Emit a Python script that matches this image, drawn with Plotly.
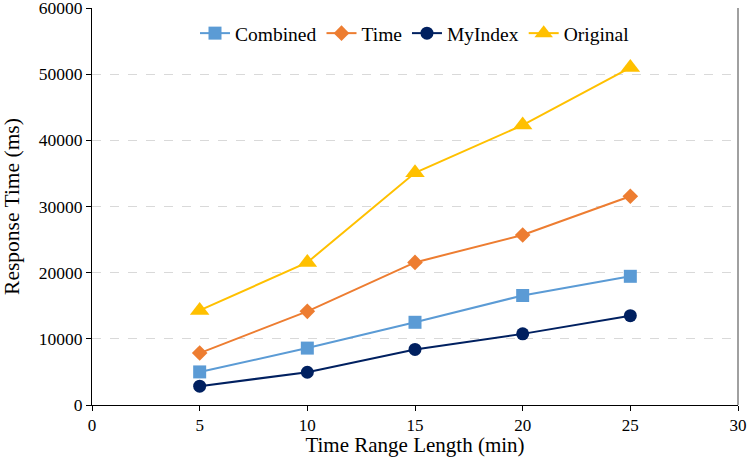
import plotly.graph_objects as go

x_vals = [5, 10, 15, 20, 25]
combined = [5000, 8600, 12500, 16550, 19450]
time_s = [7850, 14150, 21550, 25700, 31550]
myindex = [2850, 4950, 8400, 10750, 13500]
original = [14300, 21550, 35100, 42300, 51000]
x_ticks = [0, 5, 10, 15, 20, 25, 30]
y_ticks = [0, 10000, 20000, 30000, 40000, 50000, 60000]
grid_ticks = [10000, 20000, 30000, 40000, 50000]

series = [
    ("Combined", combined, "#5B9BD5", "square", 13),
    ("Time", time_s, "#ED7D31", "diamond", 12),
    ("MyIndex", myindex, "#002060", "circle", 13),
    ("Original", original, "#FFC000", "triangle-up", 17),
]

fig = go.Figure()
# helper trace so the dashed grid axis is rendered
fig.add_trace(go.Scatter(x=[None], y=[None], yaxis="y2", showlegend=False,
                         hoverinfo="skip"))
for name, ys, col, sym, sz in series:
    fig.add_trace(go.Scatter(
        x=x_vals, y=ys, name=name, mode="lines+markers",
        line=dict(color=col, width=2),
        marker=dict(symbol=sym, size=sz, color=col),
    ))

font_family = "Liberation Serif"
fig.update_layout(
    width=749, height=457,
    margin=dict(l=92, r=11, t=8, b=52),
    paper_bgcolor="white", plot_bgcolor="white",
    font=dict(family=font_family, color="black", size=17),
    showlegend=True,
    legend=dict(orientation="h", x=0.5, xanchor="center", y=0.985, yanchor="top",
                font=dict(size=19.5), bgcolor="rgba(0,0,0,0)", itemwidth=30,
                tracegroupgap=0),
    xaxis=dict(range=[0, 30], tickvals=x_ticks, automargin=False,
               showgrid=False, showline=True, linecolor="black", linewidth=1,
               ticks="outside", ticklen=5, tickcolor="black",
               tickfont=dict(size=17),
               title=dict(text="Time Range Length (min)", font=dict(size=21), standoff=4),
               zeroline=False),
    yaxis=dict(range=[0, 60000], tickvals=y_ticks, tickformat="d", automargin=False,
               showgrid=False, ticklabeloverflow="allow",
               showline=True, linecolor="black", linewidth=1,
               ticks="outside", ticklen=5, tickcolor="black",
               tickfont=dict(size=17.5),
               title=dict(text="Response Time (ms)", font=dict(size=21.5), standoff=16),
               zeroline=False),
    yaxis2=dict(range=[0, 60000], overlaying="y", tickvals=grid_ticks, automargin=False,
                showticklabels=False, showgrid=True, gridcolor="#d9d9d9",
                griddash="dash", gridwidth=1, showline=False, zeroline=False),
)
fig.add_shape(type="line", xref="paper", yref="paper", x0=1, x1=1, y0=0, y1=1,
              line=dict(color="#a0a0a0", width=2))
fig.write_html("out.html")
